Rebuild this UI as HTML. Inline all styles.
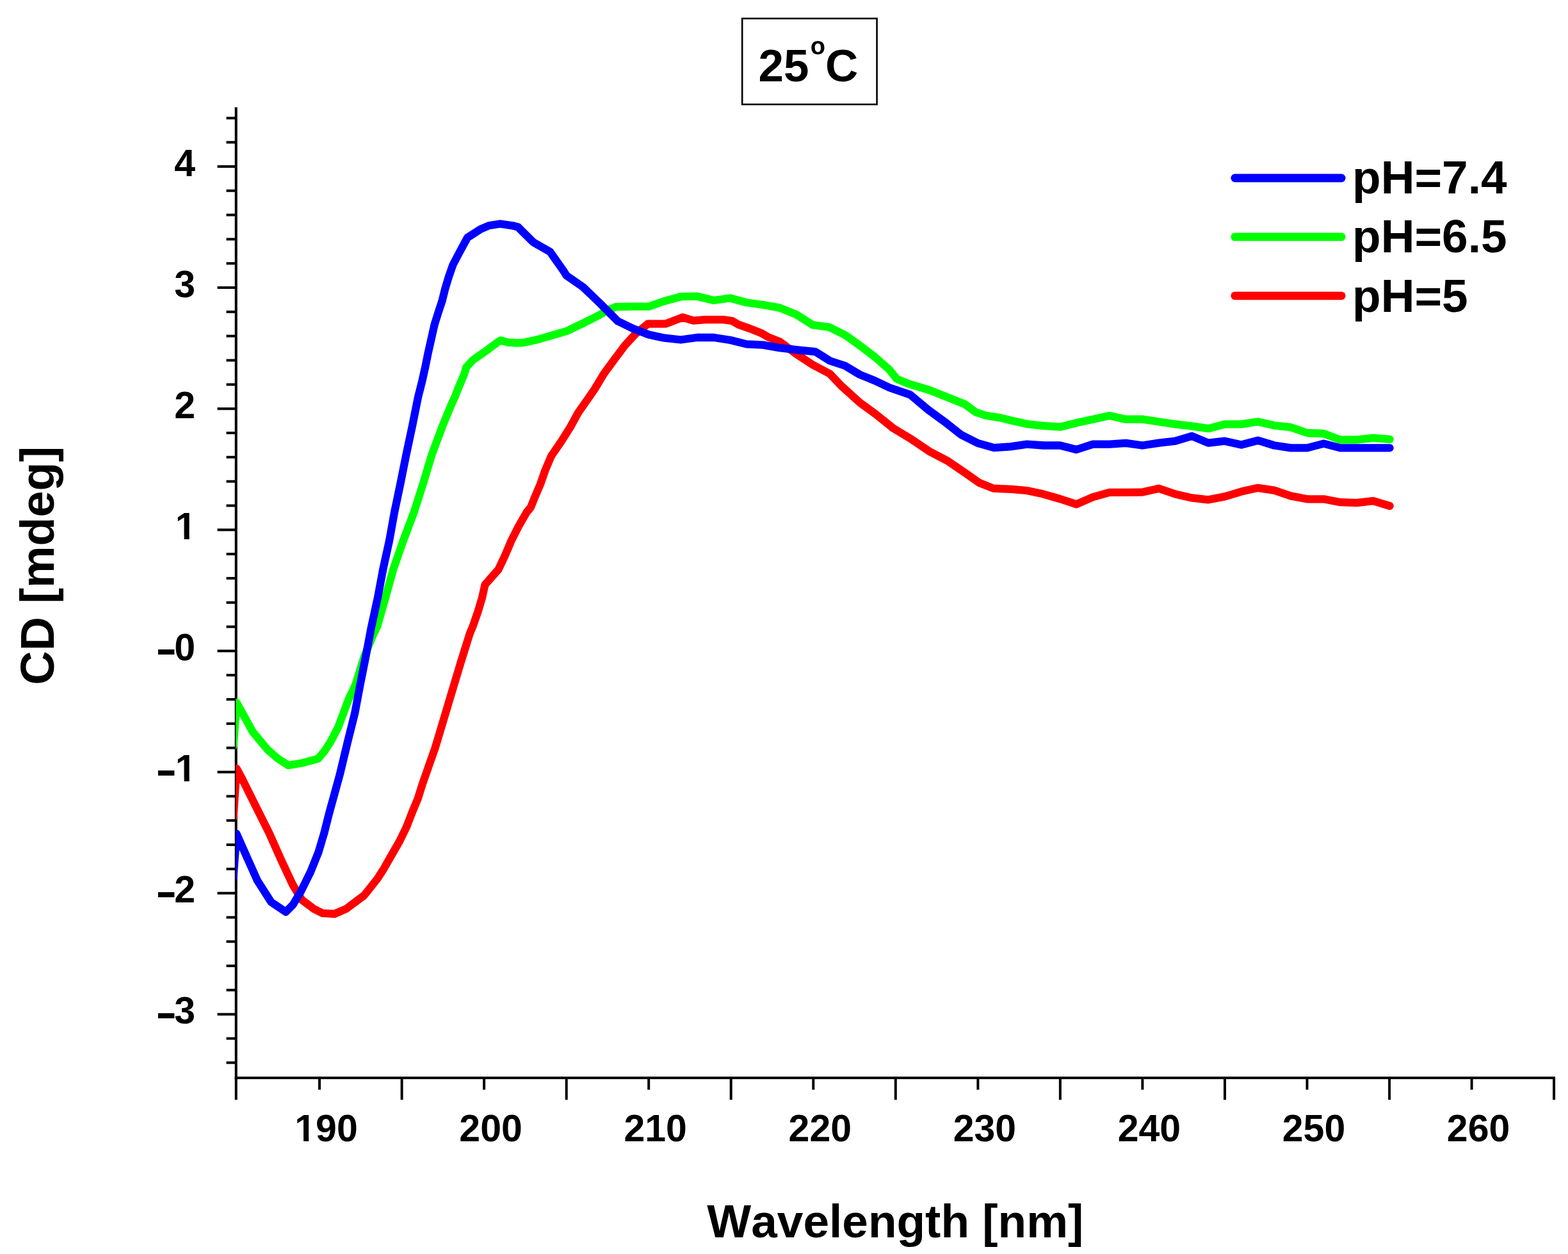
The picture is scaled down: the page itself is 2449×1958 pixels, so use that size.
<!DOCTYPE html><html><head><meta charset="utf-8"><title>CD spectra 25°C</title><style>html,body{margin:0;padding:0;background:#fff;}svg{display:block;}text{font-family:"Liberation Sans", Arial, Helvetica, sans-serif;font-weight:bold;fill:#000;font-kerning:none;}</style></head><body>
<svg width="2449" height="1958" viewBox="0 0 2449 1958">
<rect x="0" y="0" width="2449" height="1958" fill="#fff"/>
<rect x="1159.2" y="28.9" width="210.4" height="134.1" fill="none" stroke="#000" stroke-width="2.6"/>
<text x="1184.5" y="127" font-size="71">25<tspan x="1265.8" y="85.2" font-size="38">o</tspan><tspan x="1289" y="127" font-size="71">C</tspan></text>
<g stroke="#000" stroke-width="4" fill="none">
<line x1="368.7" y1="167.4" x2="368.7" y2="1685.0"/>
<line x1="366.7" y1="1683.0" x2="2429.0" y2="1683.0"/>
<line x1="353.5" y1="1659.3" x2="368.7" y2="1659.3"/>
<line x1="353.5" y1="1621.5" x2="368.7" y2="1621.5"/>
<line x1="339.5" y1="1583.7" x2="368.7" y2="1583.7"/>
<line x1="353.5" y1="1545.9" x2="368.7" y2="1545.9"/>
<line x1="353.5" y1="1508.1" x2="368.7" y2="1508.1"/>
<line x1="353.5" y1="1470.2" x2="368.7" y2="1470.2"/>
<line x1="353.5" y1="1432.4" x2="368.7" y2="1432.4"/>
<line x1="339.5" y1="1394.6" x2="368.7" y2="1394.6"/>
<line x1="353.5" y1="1356.8" x2="368.7" y2="1356.8"/>
<line x1="353.5" y1="1319.0" x2="368.7" y2="1319.0"/>
<line x1="353.5" y1="1281.1" x2="368.7" y2="1281.1"/>
<line x1="353.5" y1="1243.3" x2="368.7" y2="1243.3"/>
<line x1="339.5" y1="1205.5" x2="368.7" y2="1205.5"/>
<line x1="353.5" y1="1167.7" x2="368.7" y2="1167.7"/>
<line x1="353.5" y1="1129.9" x2="368.7" y2="1129.9"/>
<line x1="353.5" y1="1092.0" x2="368.7" y2="1092.0"/>
<line x1="353.5" y1="1054.2" x2="368.7" y2="1054.2"/>
<line x1="339.5" y1="1016.4" x2="368.7" y2="1016.4"/>
<line x1="353.5" y1="978.6" x2="368.7" y2="978.6"/>
<line x1="353.5" y1="940.8" x2="368.7" y2="940.8"/>
<line x1="353.5" y1="902.9" x2="368.7" y2="902.9"/>
<line x1="353.5" y1="865.1" x2="368.7" y2="865.1"/>
<line x1="339.5" y1="827.3" x2="368.7" y2="827.3"/>
<line x1="353.5" y1="789.5" x2="368.7" y2="789.5"/>
<line x1="353.5" y1="751.7" x2="368.7" y2="751.7"/>
<line x1="353.5" y1="713.8" x2="368.7" y2="713.8"/>
<line x1="353.5" y1="676.0" x2="368.7" y2="676.0"/>
<line x1="339.5" y1="638.2" x2="368.7" y2="638.2"/>
<line x1="353.5" y1="600.4" x2="368.7" y2="600.4"/>
<line x1="353.5" y1="562.6" x2="368.7" y2="562.6"/>
<line x1="353.5" y1="524.7" x2="368.7" y2="524.7"/>
<line x1="353.5" y1="486.9" x2="368.7" y2="486.9"/>
<line x1="339.5" y1="449.1" x2="368.7" y2="449.1"/>
<line x1="353.5" y1="411.3" x2="368.7" y2="411.3"/>
<line x1="353.5" y1="373.5" x2="368.7" y2="373.5"/>
<line x1="353.5" y1="335.6" x2="368.7" y2="335.6"/>
<line x1="353.5" y1="297.8" x2="368.7" y2="297.8"/>
<line x1="339.5" y1="260.0" x2="368.7" y2="260.0"/>
<line x1="353.5" y1="222.2" x2="368.7" y2="222.2"/>
<line x1="353.5" y1="184.4" x2="368.7" y2="184.4"/>
<line x1="368.7" y1="1683.0" x2="368.7" y2="1717.3"/>
<line x1="499.0" y1="1683.0" x2="499.0" y2="1701.5"/>
<line x1="627.6" y1="1683.0" x2="627.6" y2="1717.3"/>
<line x1="756.1" y1="1683.0" x2="756.1" y2="1701.5"/>
<line x1="884.7" y1="1683.0" x2="884.7" y2="1717.3"/>
<line x1="1013.2" y1="1683.0" x2="1013.2" y2="1701.5"/>
<line x1="1141.7" y1="1683.0" x2="1141.7" y2="1717.3"/>
<line x1="1270.3" y1="1683.0" x2="1270.3" y2="1701.5"/>
<line x1="1398.8" y1="1683.0" x2="1398.8" y2="1717.3"/>
<line x1="1527.4" y1="1683.0" x2="1527.4" y2="1701.5"/>
<line x1="1655.9" y1="1683.0" x2="1655.9" y2="1717.3"/>
<line x1="1784.4" y1="1683.0" x2="1784.4" y2="1701.5"/>
<line x1="1913.0" y1="1683.0" x2="1913.0" y2="1717.3"/>
<line x1="2041.5" y1="1683.0" x2="2041.5" y2="1701.5"/>
<line x1="2170.1" y1="1683.0" x2="2170.1" y2="1717.3"/>
<line x1="2298.6" y1="1683.0" x2="2298.6" y2="1701.5"/>
<line x1="2427.1" y1="1683.0" x2="2427.1" y2="1717.3"/>
</g>
<defs><clipPath id="pc"><rect x="368.3" y="0" width="2100" height="1681"/></clipPath></defs>
<g clip-path="url(#pc)">
<polyline points="364.5,1276.0 369.5,1200.0 378.6,1217.0 399.4,1258.8 420.3,1300.6 438.9,1342.3 457.4,1381.8 471.4,1405.0 489.9,1418.9 503.9,1425.9 522.4,1427.0 541.0,1418.9 568.8,1398.0 589.5,1372.0 598.4,1358.2 611.2,1335.9 624.0,1313.6 634.8,1291.4 643.5,1269.1 652.7,1246.8 659.7,1224.5 667.5,1202.3 675.3,1180.0 679.5,1168.2 692.9,1123.6 706.2,1079.1 719.6,1034.5 733.5,990.0 738.4,978.2 746.2,955.9 752.9,933.6 757.5,913.0 778.5,889.1 789.0,866.8 798.5,844.5 809.7,822.3 822.5,800.0 829.0,792.0 834.5,778.2 844.0,755.9 851.8,733.6 861.3,711.4 876.8,689.1 890.8,666.8 903.0,644.5 918.6,622.3 928.5,608.0 943.0,583.9 959.3,561.7 976.0,539.4 992.0,522.0 1012.0,505.6 1040.0,505.6 1066.0,495.5 1083.2,500.6 1101.8,499.2 1129.6,499.2 1143.5,501.0 1152.8,506.6 1171.4,513.1 1189.9,520.5 1199.2,526.1 1217.8,533.5 1243.5,552.5 1268.6,569.1 1296.4,583.9 1315.0,603.4 1342.8,628.5 1367.8,646.8 1395.7,669.1 1423.5,685.8 1451.4,704.7 1479.2,719.2 1507.1,738.1 1529.3,753.7 1551.6,762.6 1580.0,763.8 1604.0,766.0 1629.8,771.6 1655.6,779.0 1681.2,787.4 1707.0,776.2 1732.8,768.8 1758.4,768.8 1784.3,768.6 1810.0,762.7 1835.7,771.5 1861.5,777.4 1887.2,780.3 1912.9,775.4 1938.8,767.6 1964.6,761.8 1990.3,765.7 2016.0,774.4 2041.7,779.3 2067.5,779.3 2093.2,784.2 2118.9,785.1 2144.6,782.2 2170.6,790.0" fill="none" stroke="#ff0000" stroke-width="12.3" stroke-linejoin="round" stroke-linecap="round"/>
<polyline points="364.5,1165.0 369.5,1097.0 394.8,1142.8 418.0,1170.6 434.2,1184.6 450.5,1195.0 471.4,1191.5 496.9,1184.6 507.4,1172.0 516.3,1158.2 528.0,1135.9 536.3,1113.6 544.7,1091.4 555.3,1069.1 569.2,1024.5 582.4,992.0 589.1,978.2 601.9,933.6 614.2,889.1 629.7,844.5 646.5,800.0 661.3,753.6 674.7,709.1 691.4,664.5 704.8,632.0 710.4,620.0 715.4,607.0 724.8,584.8 728.2,573.6 738.2,562.5 760.5,546.9 778.3,533.6 781.8,531.5 793.9,534.7 807.5,535.5 816.6,535.2 841.6,529.7 884.7,517.1 910.4,504.9 936.1,492.0 949.3,484.0 961.8,479.2 987.5,478.7 1013.2,478.7 1037.4,470.2 1063.2,463.2 1089.0,462.7 1114.7,469.0 1140.5,465.5 1166.2,472.5 1192.0,476.0 1217.7,480.6 1243.5,491.0 1269.2,507.3 1295.0,510.8 1320.7,523.5 1342.8,539.4 1366.0,557.0 1389.2,577.4 1400.3,591.4 1418.0,598.9 1451.4,609.0 1484.8,622.3 1507.1,631.2 1523.8,643.5 1540.5,649.0 1562.7,652.4 1580.0,656.8 1604.0,662.1 1629.8,664.9 1655.6,666.7 1681.2,660.2 1707.0,654.7 1732.8,649.1 1758.4,654.7 1784.3,654.6 1810.0,658.5 1835.7,662.4 1861.5,665.3 1887.2,669.2 1912.9,662.4 1938.8,662.4 1964.6,658.5 1990.3,664.3 2016.0,667.2 2041.7,676.0 2067.5,677.0 2093.2,686.7 2118.9,686.7 2144.6,683.8 2170.6,685.8" fill="none" stroke="#00ff00" stroke-width="12.3" stroke-linejoin="round" stroke-linecap="round"/>
<polyline points="364.5,1369.0 369.5,1302.0 386.7,1340.8 401.9,1374.7 423.5,1408.5 446.4,1423.8 457.4,1412.8 470.1,1391.6 485.2,1361.0 497.3,1330.9 506.3,1300.7 513.9,1270.5 522.2,1240.3 530.5,1210.2 539.7,1172.0 543.0,1158.2 554.2,1113.6 562.5,1069.1 571.4,1024.5 579.8,980.0 589.9,933.6 598.2,889.1 608.0,844.5 616.0,800.0 625.7,753.6 634.6,709.1 644.1,664.5 653.0,620.0 659.1,595.9 664.1,573.6 668.6,551.4 673.6,529.1 678.6,506.8 684.5,488.0 690.7,469.2 695.3,450.6 700.9,432.1 707.4,413.5 717.1,395.0 730.1,371.0 750.5,357.8 763.5,352.3 781.2,349.5 800.6,352.3 809.0,354.5 833.1,378.3 859.1,393.1 880.0,422.8 884.7,430.2 910.4,448.0 936.1,472.6 964.5,501.2 987.5,512.5 1013.2,522.5 1037.4,527.7 1063.2,530.5 1089.0,527.0 1114.7,527.0 1140.5,531.0 1166.2,537.4 1192.0,538.6 1217.7,543.2 1250.0,546.8 1273.2,549.1 1296.4,563.5 1319.6,571.0 1342.8,584.9 1366.0,594.2 1389.2,605.3 1421.7,616.4 1449.6,639.8 1475.2,658.4 1501.0,678.8 1526.8,691.8 1552.6,699.2 1578.2,697.4 1604.0,693.6 1629.8,695.5 1655.6,695.5 1681.2,702.0 1707.0,693.6 1732.8,693.6 1758.4,691.8 1784.3,695.5 1810.0,691.6 1835.7,688.7 1861.5,680.9 1887.2,691.6 1912.9,688.7 1938.8,694.5 1964.6,687.7 1990.3,695.5 2016.0,699.4 2041.7,699.4 2067.5,692.6 2093.2,699.4 2118.9,699.4 2144.6,699.4 2170.6,699.4" fill="none" stroke="#0000ff" stroke-width="12.3" stroke-linejoin="round" stroke-linecap="round"/>
</g>
<text x="305" y="1598.2" font-size="59" text-anchor="end">3</text>
<text transform="matrix(1.7 0 0 1.13 243.1 1602.6)" font-size="59">-</text>
<text x="305" y="1409.1" font-size="59" text-anchor="end">2</text>
<text transform="matrix(1.7 0 0 1.13 243.1 1413.5)" font-size="59">-</text>
<text x="273.8" y="1220.0" font-size="59" clip-path="url(#c1y4)">1</text>
<text transform="matrix(1.7 0 0 1.13 243.1 1224.4)" font-size="59">-</text>
<text x="305" y="1030.9" font-size="59" text-anchor="end">0</text>
<text transform="matrix(1.7 0 0 1.13 243.1 1035.3)" font-size="59">-</text>
<text x="273.8" y="841.8" font-size="59" clip-path="url(#c1y6)">1</text>
<text x="305" y="652.7" font-size="59" text-anchor="end">2</text>
<text x="305" y="463.6" font-size="59" text-anchor="end">3</text>
<text x="305" y="274.5" font-size="59" text-anchor="end">4</text>
<text x="460.3" y="1782.0" font-size="59" clip-path="url(#c1x190)">1</text>
<text x="493.1" y="1782" font-size="59">90</text>
<text x="766.6" y="1782" font-size="59" text-anchor="middle">200</text>
<text x="1023.7" y="1782" font-size="59" text-anchor="middle">210</text>
<text x="1280.8" y="1782" font-size="59" text-anchor="middle">220</text>
<text x="1537.9" y="1782" font-size="59" text-anchor="middle">230</text>
<text x="1794.9" y="1782" font-size="59" text-anchor="middle">240</text>
<text x="2052.0" y="1782" font-size="59" text-anchor="middle">250</text>
<text x="2309.1" y="1782" font-size="59" text-anchor="middle">260</text>
<text x="1398.4" y="1932.4" font-size="73" text-anchor="middle">Wavelength [nm]</text>
<text transform="translate(84.3 883.2) rotate(-90)" x="0" y="0" font-size="73.7" text-anchor="middle">CD [mdeg]</text>
<line x1="1928.8" y1="278.0" x2="2095.2" y2="278.0" stroke="#0000ff" stroke-width="12.8" stroke-linecap="round"/>
<text x="2112.1" y="301.5" font-size="73">pH=7.4</text>
<line x1="1928.8" y1="369.9" x2="2095.2" y2="369.9" stroke="#00ff00" stroke-width="12.8" stroke-linecap="round"/>
<text x="2112.1" y="394.2" font-size="73">pH=6.5</text>
<line x1="1928.8" y1="461.8" x2="2095.2" y2="461.8" stroke="#ff0000" stroke-width="12.8" stroke-linecap="round"/>
<text x="2112.1" y="487.0" font-size="73">pH=5</text>
<defs><clipPath id="c1y4" clipPathUnits="userSpaceOnUse"><rect x="268.8" y="1161.0" width="59.0" height="53.0"/><rect x="287.6" y="1213.0" width="8.1" height="9.0"/></clipPath><clipPath id="c1y6" clipPathUnits="userSpaceOnUse"><rect x="268.8" y="782.8" width="59.0" height="53.0"/><rect x="287.6" y="834.8" width="8.1" height="9.0"/></clipPath><clipPath id="c1x190" clipPathUnits="userSpaceOnUse"><rect x="455.3" y="1723.0" width="59.0" height="53.0"/><rect x="474.1" y="1775.0" width="8.1" height="9.0"/></clipPath></defs>
</svg></body></html>
